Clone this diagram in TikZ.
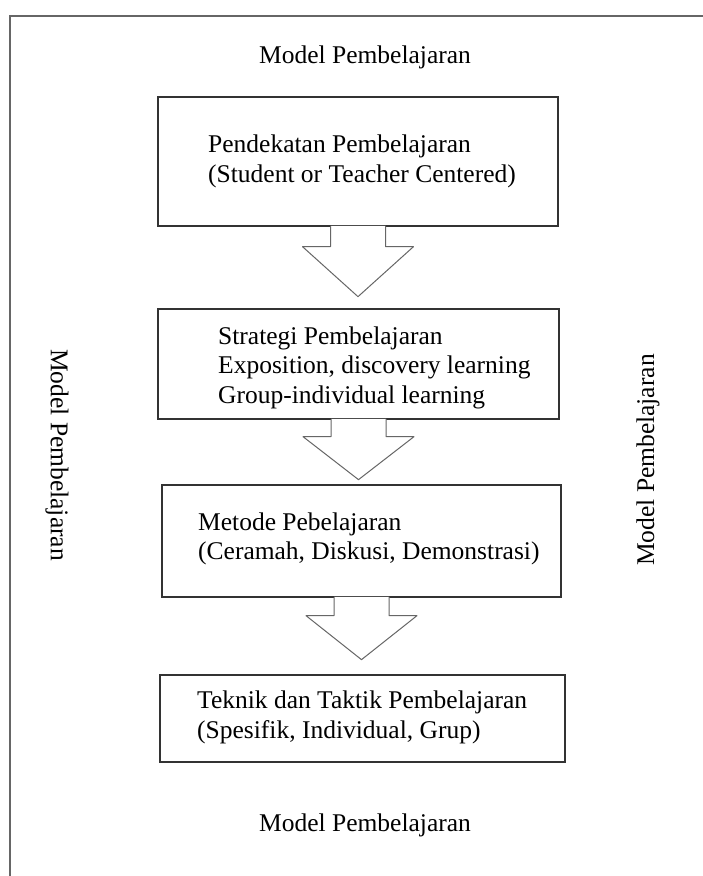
\documentclass[tikz,border=0pt]{standalone}
\usepackage{fontspec}
\setmainfont{Liberation Serif}
\usepackage{tikz}
\usetikzlibrary{positioning}

\tikzset{
    box/.style={draw=black!80, line width=1.3pt, fill=white, inner sep=0pt},
    boxtext/.style={anchor=north west, align=left, inner sep=0pt},
    blockarrow/.style={draw=black!60, line width=1pt, fill=white, line join=round},
    sidelabel/.style={inner sep=0pt}
}

\begin{document}
\begin{tikzpicture}[x=1pt, y=-1pt, font=\fontsize{25.5}{29.5}\selectfont]
\useasboundingbox (0,0) rectangle (703,876);
\draw[black!60, line width=2.2pt] (10,877) -- (10,16) -- (704,16);

\node[sidelabel] (labtop) at (365,57) {Model Pembelajaran};
\node[sidelabel] (labbottom) at (365,825) {Model Pembelajaran};
\node[sidelabel, rotate=-90] (lableft) at (57,455) {Model Pembelajaran};
\node[sidelabel, rotate=90] (labright) at (648,460) {Model Pembelajaran};

\node[box, minimum width=400pt, minimum height=129pt] (pendekatan) at (358,161.5) {};
\node[box, minimum width=401pt, minimum height=110pt] (strategi) at (358.5,364) {};
\node[box, minimum width=399pt, minimum height=112pt] (metode) at (361.5,541) {};
\node[box, minimum width=405pt, minimum height=87pt] (teknik) at (362.5,718.5) {};

\node[boxtext] (tpendekatan) at (208,135) {Pendekatan Pembelajaran\\(Student or Teacher Centered)};
\node[boxtext] (tstrategi) at (218,326.5) {Strategi Pembelajaran\\Exposition, discovery learning\\Group-individual learning};
\node[boxtext] (tmetode) at (198,512.5) {Metode Pebelajaran\\(Ceramah, Diskusi, Demonstrasi)};
\node[boxtext] (tteknik) at (197,691) {Teknik dan Taktik Pembelajaran\\(Spesifik, Individual, Grup)};

% hollow arrows between the levels
\foreach \from/\stem/\head in {pendekatan/20/50, strategi/17/43, metode/18/44} {
    \filldraw[blockarrow] ([xshift=-27.5pt, yshift=0.8pt]\from.south) -- ++(0,\stem+0.8)
        -- ++(-28,0) -- ++(55.5,\head) -- ++(55.5,-\head) -- ++(-28,0) -- ++(0,-\stem-0.8);
}
\end{tikzpicture}
\end{document}
